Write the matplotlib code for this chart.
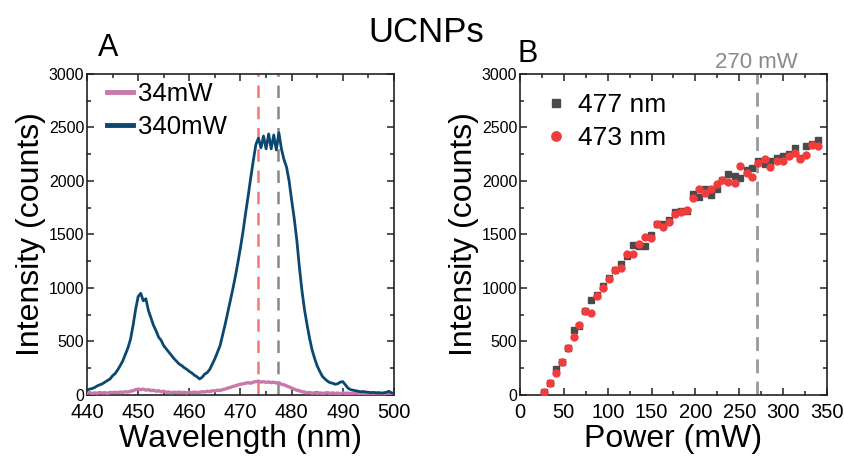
import matplotlib
matplotlib.use("Agg")
import matplotlib.pyplot as plt
from matplotlib.ticker import MultipleLocator
import matplotlib.transforms as mtransforms

plt.rcParams['font.family'] = ['Liberation Sans', 'DejaVu Sans']

# ---------------- Data ----------------
wl_start, wl_step = 440.0, 0.5
wavelength = [wl_start + wl_step * i for i in range(121)]

int_340mW = [45, 55, 60, 70, 85, 95, 105, 120, 135, 150,
             180, 200, 235, 275, 320, 380, 440, 520, 650, 800,
             920, 950, 880, 900, 790, 720, 650, 600, 540, 510,
             460, 430, 400, 370, 340, 315, 290, 275, 255, 240,
             220, 205, 185, 170, 150, 165, 195, 210, 240, 290,
             340, 400, 460, 560, 660, 770, 880, 990, 1110, 1240,
             1380, 1530, 1700, 1860, 2030, 2190, 2340, 2400, 2310, 2420,
             2300, 2440, 2300, 2430, 2290, 2450, 2300, 2200, 2130, 2000,
             1820, 1650, 1450, 1200, 980, 800, 660, 530, 420, 340,
             270, 220, 175, 150, 130, 115, 110, 100, 105, 120,
             125, 95, 65, 50, 45, 40, 35, 30, 32, 28,
             25, 22, 24, 20, 22, 18, 20, 25, 35, 20, 15]

int_34mW = [15, 22, 14, 20, 16, 24, 18, 22, 15, 25,
            20, 26, 22, 28, 25, 30, 28, 35, 40, 50,
            55, 50, 55, 45, 50, 40, 45, 35, 40, 30,
            35, 25, 28, 20, 26, 22, 28, 20, 25, 18,
            26, 20, 28, 22, 25, 30, 28, 35, 32, 40,
            38, 45, 42, 50, 55, 65, 70, 80, 85, 95,
            100, 105, 110, 115, 110, 120, 125, 130, 120, 125,
            118, 122, 115, 120, 112, 115, 100, 95, 85, 75,
            65, 55, 45, 40, 30, 28, 20, 24, 16, 22,
            15, 20, 14, 18, 22, 15, 20, 14, 18, 12,
            20, 15, 18, 12, 16, 20, 14, 18, 12, 16,
            14, 18, 12, 15, 18, 12, 16, 14, 18, 12, 15]

power = [27.4, 34.2, 40.7, 47.5, 54.4, 61.2, 67.7, 74.6, 81.4, 87.9,
         94.7, 101.6, 108.4, 115.3, 122.1, 128.9, 135.8, 142.6, 149.5, 156.0,
         162.8, 169.6, 176.5, 183.3, 190.2, 197.0, 203.9, 210.7, 217.6, 224.4,
         230.9, 237.7, 244.6, 251.4, 258.3, 265.1, 271.9, 278.8, 285.6, 292.5,
         299.4, 306.2, 313.0, 319.5, 326.4, 333.2, 340.0]

int_477nm = [25, 115, 245, 311, 438, 606, 646, 789, 886, 935,
             1020, 1090, 1166, 1228, 1302, 1399, 1396, 1390, 1498, 1595,
             1601, 1635, 1712, 1718, 1718, 1877, 1855, 1927, 1865, 1924,
             2011, 2064, 2048, 2026, 2107, 2117, 2188, 2163, 2188, 2213,
             2235, 2250, 2306, 2215, 2331, 2345, 2384]

int_473nm = [28, 115, 208, 311, 438, 544, 656, 789, 765, 929,
             1001, 1088, 1166, 1185, 1322, 1319, 1412, 1474, 1464, 1595,
             1573, 1614, 1694, 1710, 1728, 1840, 1924, 1887, 1924, 1968,
             2011, 1986, 1977, 2141, 2073, 2033, 2172, 2207, 2129, 2191,
             2191, 2229, 2263, 2210, 2247, 2340, 2328]

line_473 = 473.5
line_477 = 477.3
power_mark = 270

# ---------------- Figure ----------------
fig = plt.figure(figsize=(8.44, 4.57), dpi=100)
axA = fig.add_axes([0.1031, 0.1357, 0.3637, 0.7024])
axB = fig.add_axes([0.6161, 0.1357, 0.3637, 0.7024])

def style(ax):
    ax.tick_params(which='both', direction='in', top=True, right=True, width=1.1, color='#222222')
    ax.tick_params(which='major', length=5)
    ax.tick_params(which='minor', length=3)
    ax.tick_params(axis='y', labelsize=11.5, pad=2)
    ax.tick_params(axis='x', labelsize=14.5, pad=5.5)
    for s in ax.spines.values():
        s.set_linewidth(1.2)
        s.set_color('#222222')
    ax.yaxis.set_major_locator(MultipleLocator(500))
    ax.yaxis.set_minor_locator(MultipleLocator(250))
    ax.set_ylim(0, 3000)

# Panel A
style(axA)
axA.plot(wavelength, int_34mW, color='#c878aa', lw=2.4, label='34mW', zorder=3)
axA.plot(wavelength, int_340mW, color='#0b4870', lw=2.0, label='340mW', zorder=4)
axA.axvline(line_473, color='#f47878', lw=1.8, ls=(0, (5, 3.5)), zorder=2)
axA.axvline(line_477, color='#888888', lw=1.8, ls=(0, (5, 3.5)), zorder=2)
axA.set_xlim(440, 500)
axA.xaxis.set_major_locator(MultipleLocator(10))
axA.xaxis.set_minor_locator(MultipleLocator(5))
axA.set_xlabel('Wavelength (nm)', fontsize=23, labelpad=2)
axA.set_ylabel('Intensity (counts)', fontsize=23, labelpad=2)
legA = axA.legend(loc='upper left', bbox_to_anchor=(0.02, 1.02), frameon=False,
                  fontsize=18.5, handlelength=1.0, handletextpad=0.2,
                  labelspacing=0.35, borderaxespad=0.15)
for h in legA.get_lines():
    h.set_linewidth(3.5)

# Panel B
style(axB)
axB.plot(power, int_477nm, ls='none', marker='s', ms=4.4, color='#4a4a4a', label='477 nm', zorder=3)
axB.plot(power, int_473nm, ls='none', marker='o', ms=5.0, color='#f23c3c', label='473 nm', zorder=4)
axB.axvline(power_mark, color='#999999', lw=2.0, ls=(0, (5, 3)), zorder=2)
axB.set_xlim(0, 350)
axB.xaxis.set_major_locator(MultipleLocator(50))
axB.xaxis.set_minor_locator(MultipleLocator(25))
axB.set_xlabel('Power (mW)', fontsize=23, labelpad=2)
axB.set_ylabel('Intensity (counts)', fontsize=23, labelpad=2)
legB = axB.legend(loc='upper left', bbox_to_anchor=(0.03, 0.99), frameon=False,
                  fontsize=19, handlelength=0.8, handletextpad=0.45,
                  labelspacing=0.35, borderaxespad=0.2, markerscale=1.35)
trans = mtransforms.blended_transform_factory(axB.transData, axB.transAxes)
axB.annotate(f'{power_mark} mW', xy=(power_mark, 1.0), xycoords=trans,
             xytext=(0, 4.5), textcoords='offset points', ha='center', va='baseline',
             fontsize=16, color='#8a8a8a')

fig.text(426 / 844, 1 - 32 / 457, 'UCNPs', fontsize=25, ha='center', va='center')
fig.text(108 / 844, 1 - 48 / 457, 'A', fontsize=22, ha='center', va='center')
fig.text(528 / 844, 1 - 54 / 457, 'B', fontsize=22, ha='center', va='center')

fig.savefig('out.png', dpi=100)
